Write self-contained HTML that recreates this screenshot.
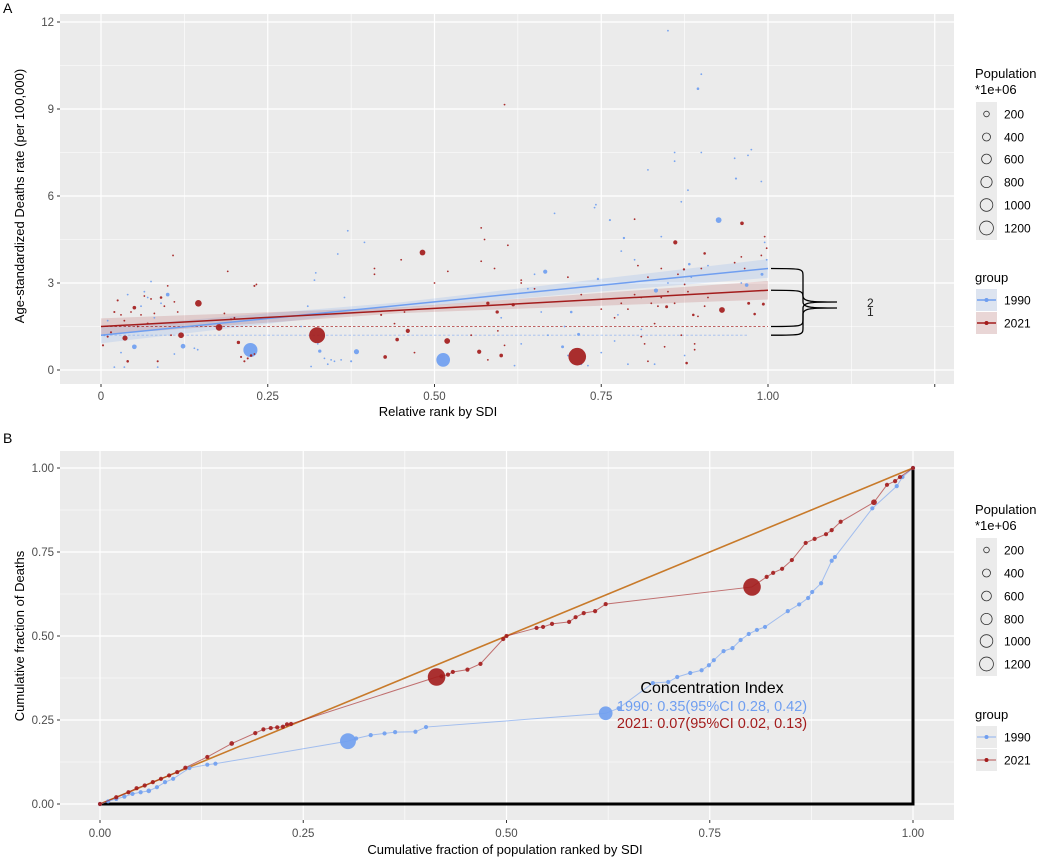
<!DOCTYPE html>
<html><head><meta charset="utf-8"><style>
body{margin:0;background:#fff}
svg{display:block;font-family:"Liberation Sans",Arial,sans-serif}
</style></head><body>
<svg id="chart" width="1052" height="859" viewBox="0 0 1052 859" xmlns="http://www.w3.org/2000/svg"></svg>
<script>
// ---------- Panel A data ----------
const rank1990=[0.224,0.513,0.05,0.123,0.1,0.383,0.328,0.926,0.895,0.666,0.832,0.968,0.991,0.692,0.716,0.705,0.882,0.784,0.763,0.745,0.952,
0.005,0.01,0.02,0.03,0.035,0.04,0.06,0.065,0.07,0.075,0.08,0.085,0.09,0.11,0.14,0.145,0.2,0.3,0.31,0.315,0.32,0.322,0.325,0.335,0.34,0.345,0.35,0.355,0.36,0.365,0.37,0.375,0.395,0.62,0.63,0.64,0.65,0.6,0.66,0.67,0.68,0.695,0.7,0.72,0.73,0.74,0.742,0.75,0.77,0.775,0.78,0.79,0.8,0.81,0.82,0.83,0.84,0.85,0.86,0.86,0.87,0.875,0.88,0.885,0.9,0.9,0.91,0.95,0.96,0.97,0.975,0.99,0.995,0.998,0.85];
const rate1990=[0.69,0.35,0.8,0.82,2.6,0.63,0.65,5.17,9.7,3.39,2.74,2.93,3.3,0.8,1.23,2.0,3.65,4.55,5.17,3.14,6.6,
1.2,1.7,0.1,0.6,0.1,2.6,2.2,2.7,2.5,3.05,1.8,0.1,2.3,0.55,0.75,0.7,1.8,1.5,2.2,0.12,3.1,3.35,0.9,0.4,0.2,0.35,0.3,4.0,0.35,2.5,4.8,0.3,4.4,0.15,0.9,2.8,3.3,1.8,2.0,1.2,5.4,1.5,0.5,0.2,0.15,5.6,5.7,0.6,1.0,1.9,4.1,0.2,3.8,1.4,6.9,0.2,4.6,3.0,7.5,7.2,5.8,0.5,6.2,3.2,10.2,7.5,3.6,7.3,3.0,7.4,7.6,6.5,4.4,3.8,11.7];
const pop1990=[900,850,100,100,60,120,50,150,30,80,80,60,40,40,40,30,30,25,20,25,20,
20,5,10,8,8,3,10,5,8,5,3,8,3,3,15,5,3,5,3,15,8,5,3,8,3,15,10,2,10,3,2,20,2,3,5,3,8,3,3,3,2,3,5,5,5,5,3,3,3,5,5,3,3,3,2,3,3,5,2,2,3,3,3,3,2,2,3,3,3,5,3,2,2,2,1];
const rank2021=[0.324,0.714,0.146,0.177,0.12,0.036,0.05,0.482,0.519,0.46,0.444,0.426,0.567,0.6,0.594,0.58,0.618,0.206,0.961,0.861,0.931,0.993,0.971,0.888,0.848,0.905,0.878,0.874,0.98,
0.003,0.01,0.015,0.02,0.025,0.03,0.035,0.04,0.045,0.055,0.06,0.065,0.07,0.075,0.08,0.085,0.09,0.095,0.1,0.105,0.108,0.11,0.115,0.19,0.185,0.195,0.2,0.21,0.215,0.22,0.225,0.23,0.23,0.233,0.41,0.41,0.42,0.44,0.45,0.455,0.47,0.5,0.52,0.57,0.57,0.575,0.59,0.595,0.605,0.61,0.63,0.65,0.7,0.72,0.75,0.77,0.78,0.79,0.8,0.805,0.81,0.81,0.815,0.82,0.82,0.825,0.83,0.835,0.84,0.84,0.845,0.85,0.86,0.865,0.87,0.875,0.88,0.89,0.89,0.895,0.9,0.905,0.91,0.95,0.96,0.965,0.99,0.995,0.998,0.58,0.605,0.8,0.555,0.63];
const rate2021=[1.2,0.46,2.3,1.47,1.2,1.1,2.15,4.05,1.0,1.35,1.05,0.45,0.63,0.5,2.0,2.3,2.25,0.95,5.06,4.4,2.07,2.27,2.3,1.9,2.18,4.02,0.24,3.47,1.93,
0.85,1.15,1.3,2.0,2.4,1.9,1.7,0.3,2.0,1.5,1.9,2.55,1.6,2.45,1.95,0.3,2.5,2.2,2.9,1.2,3.95,2.35,2.0,3.4,1.95,1.75,1.8,0.45,0.3,0.4,0.5,0.55,2.9,2.95,3.5,3.3,1.9,1.6,3.8,2.0,0.6,3.0,3.4,4.9,3.75,4.5,3.5,1.35,9.15,4.3,3.0,2.8,3.2,2.6,2.1,1.8,2.3,2.1,2.6,3.6,2.5,1.15,0.9,0.3,3.2,2.3,1.6,2.2,3.5,2.5,0.8,2.7,2.3,3.3,1.2,2.95,2.7,0.9,0.7,1.85,3.5,2.2,2.5,3.7,3.9,3.5,3.95,4.6,4.2,0.35,0.85,5.2,1.2,3.1];
const pop2021=[1150,1400,200,200,150,120,60,150,150,80,60,60,80,60,50,50,50,50,60,80,150,40,40,30,40,30,30,25,30,
20,20,20,20,20,15,15,30,5,10,10,15,20,15,10,20,30,10,15,10,8,15,5,8,5,20,5,20,20,20,30,15,20,8,3,3,20,5,3,5,3,10,3,2,10,3,3,10,3,3,3,3,3,3,5,3,3,10,10,3,10,10,10,10,15,10,10,10,5,10,5,5,5,5,5,5,5,5,5,5,5,5,5,5,5,5,5,3,3,3,3,3,3,3];
const fitStart=[1.2,1.5];   // fitted value at rank 0 (1990, 2021)
const fitEnd=[3.5,2.75];    // fitted value at rank 1
const meanRate=[1.2,1.5];   // dashed reference lines
const xTicksA=[0,0.25,0.5,0.75,1.0,1.25];
const xTickLabelsA=["0","0.25","0.50","0.75","1.00",""];
const yTicksA=[0,3,6,9,12];
// ---------- Panel B data ----------
const cumPop1990=[0,0.01,0.02,0.03,0.04,0.05,0.06,0.07,0.08,0.09,0.11,0.132,0.142,0.305,0.315,0.333,0.35,0.363,0.388,0.401,0.622,0.638,0.68,0.699,0.71,0.726,0.74,0.749,0.755,0.767,0.778,0.788,0.798,0.808,0.818,0.846,0.86,0.871,0.876,0.887,0.9,0.904,0.95,0.98,0.987,1.0];
const cumDeath1990=[0,0.008,0.015,0.022,0.03,0.035,0.039,0.05,0.065,0.075,0.107,0.117,0.12,0.187,0.195,0.205,0.21,0.214,0.215,0.229,0.27,0.285,0.36,0.363,0.378,0.39,0.398,0.413,0.428,0.455,0.464,0.488,0.506,0.518,0.527,0.574,0.594,0.613,0.631,0.657,0.724,0.735,0.88,0.946,0.973,1.0];
const popB1990=[1,10,10,10,10,10,100,20,20,20,30,60,20,1150,20,30,20,20,20,60,850,20,30,20,20,20,20,20,20,20,20,20,20,20,20,60,20,20,20,20,20,20,80,30,20,1];
const cumPop2021=[0,0.02,0.035,0.045,0.055,0.065,0.075,0.085,0.095,0.105,0.132,0.162,0.191,0.201,0.21,0.218,0.225,0.23,0.235,0.414,0.42,0.428,0.434,0.452,0.468,0.496,0.5,0.537,0.545,0.556,0.577,0.585,0.595,0.609,0.622,0.802,0.82,0.828,0.839,0.851,0.868,0.879,0.893,0.9,0.911,0.952,0.968,0.978,0.984,1.0];
const cumDeath2021=[0,0.02,0.035,0.047,0.055,0.065,0.075,0.085,0.095,0.108,0.14,0.18,0.211,0.222,0.226,0.228,0.23,0.237,0.238,0.378,0.38,0.385,0.393,0.4,0.417,0.491,0.5,0.524,0.527,0.536,0.542,0.556,0.568,0.574,0.595,0.646,0.676,0.688,0.7,0.726,0.777,0.789,0.803,0.815,0.84,0.898,0.95,0.961,0.973,1.0];
const popB2021=[1,20,30,20,20,20,20,20,20,30,60,100,80,20,20,20,20,20,20,1400,20,20,30,30,30,40,20,50,20,20,30,20,20,20,25,1400,20,20,20,20,40,20,20,20,20,150,30,20,20,1];
const xTicksB=[0,0.25,0.5,0.75,1.0];
const xTickLabelsB=["0.00","0.25","0.50","0.75","1.00"];
const yTicksB=[0,0.25,0.5,0.75,1.0];
const yTickLabelsB=["0.00","0.25","0.50","0.75","1.00"];
const legendSizes=[200,400,600,800,1000,1200];

const NS="http://www.w3.org/2000/svg";
const svg=document.getElementById('chart');
function mk(tag,attrs,parent){const e=document.createElementNS(NS,tag);for(const k in attrs)e.setAttribute(k,attrs[k]);(parent||svg).appendChild(e);return e;}
function txt(s,attrs,parent){const e=mk('text',attrs,parent);e.textContent=s;return e;}
const BLUE="#6f9ef0",RED="#a31c1c";
const rad=p=>Math.max(0.9,0.235*Math.sqrt(p));
const radB=p=>Math.max(2.1,0.235*Math.sqrt(p));

// ---------- Panel A scales ----------
const axA=v=>101+v*667, ayA=v=>370-v*29;
const gA=mk('g',{});


let r=mk('rect',{x:60,y:14,width:894,height:370,fill:'#ebebeb'},gA);

for(let i=0;i<xTicksA.length-1;i++){const m=(xTicksA[i]+xTicksA[i+1])/2;mk('line',{x1:axA(m),x2:axA(m),y1:14,y2:384,stroke:'#fff','stroke-width':0.6},gA);}
mk('line',{x1:axA(-0.125),x2:axA(-0.125),y1:14,y2:384,stroke:'#fff','stroke-width':0.6},gA);
for(let i=0;i<yTicksA.length-1;i++){const m=(yTicksA[i]+yTicksA[i+1])/2;mk('line',{x1:60,x2:954,y1:ayA(m),y2:ayA(m),stroke:'#fff','stroke-width':0.6},gA);}
xTicksA.forEach((t,i)=>{mk('line',{x1:axA(t),x2:axA(t),y1:14,y2:384,stroke:'#fff','stroke-width':1.2},gA);
 mk('line',{x1:axA(t),x2:axA(t),y1:384,y2:387,stroke:'#333'},gA);
 const l=txt(xTickLabelsA[i],{x:axA(t),y:400,'font-size':11.5,fill:'#4d4d4d','text-anchor':'middle'},gA);
 });
yTicksA.forEach(t=>{mk('line',{x1:60,x2:954,y1:ayA(t),y2:ayA(t),stroke:'#fff','stroke-width':1.2},gA);
 mk('line',{x1:57,x2:60,y1:ayA(t),y2:ayA(t),stroke:'#333'},gA);
 const l=txt(String(t),{x:54,y:ayA(t)+4,'font-size':11.5,fill:'#4d4d4d','text-anchor':'end'},gA);
 });
// bands and fits
const bandCols=['rgba(111,158,240,0.18)','rgba(163,28,28,0.15)'],lineCols=[BLUE,RED];
[0,1].forEach(k=>{
 const f=x=>fitStart[k]+(fitEnd[k]-fitStart[k])*x;
 const hw=x=>0.1+0.22*Math.abs(x-0.45)/0.55;
 let top='',bot='';
 for(let x=0;x<=1.0001;x+=0.05){top+=(top?'L':'M')+axA(x)+','+ayA(f(x)+hw(x));}
 for(let x=1;x>=-0.0001;x-=0.05){bot+='L'+axA(x)+','+ayA(f(x)-hw(x));}
 const b=mk('path',{d:top+bot+'Z',fill:bandCols[k]},gA);
 
 const dl=mk('line',{x1:axA(0),x2:axA(k?1:0.97),y1:ayA(meanRate[k]),y2:ayA(meanRate[k]),stroke:lineCols[k],'stroke-width':0.8,'stroke-dasharray':'2.5,2',opacity:k?0.9:0.6},gA);
 
});
function pointsA(rk,rt,pp,col,name){rk.forEach((x,i)=>{const c=mk('circle',{cx:axA(x),cy:ayA(rt[i]),r:rad(pp[i]),fill:col,opacity:0.92},gA);
 });}
pointsA(rank1990,rate1990,pop1990,BLUE,'point-1990');
pointsA(rank2021,rate2021,pop2021,RED,'point-2021');
[0,1].forEach(k=>{const l=mk('line',{x1:axA(0),x2:axA(1),y1:ayA(fitStart[k]),y2:ayA(fitEnd[k]),stroke:lineCols[k],'stroke-width':1.5},gA);
 });
// braces
function brace(yTop,yBot,yTip,name){const x0=axA(1.0)+3,x1=x0+32,x2=x0+66,ym=yTip;
 const d=`M${x0},${yTop} C${x1},${yTop} ${x1},${yTop} ${x1},${yTop+8} L${x1},${ym-6} C${x1},${ym} ${x1+10},${ym} ${x2},${ym} C${x1+10},${ym} ${x1},${ym} ${x1},${ym+6} L${x1},${yBot-8} C${x1},${yBot} ${x1},${yBot} ${x0},${yBot}`;
 const p=mk('path',{d,fill:'none',stroke:'#000','stroke-width':1.3},gA);}
brace(ayA(fitEnd[0]),ayA(meanRate[0]),302,'brace-1990');
brace(ayA(fitEnd[1]),ayA(meanRate[1]),308,'brace-2021');
txt('2',{x:867,y:307,'font-size':12,fill:'#222'},gA);
txt('1',{x:867,y:316,'font-size':12,fill:'#222'},gA);
let t=txt('A',{x:3,y:13,'font-size':14,fill:'#000'});
t=txt('Relative rank by SDI',{x:438,y:416,'font-size':13,fill:'#000','text-anchor':'middle'});
t=txt('Age-standardized Deaths rate (per 100,000)',{x:0,y:0,'font-size':13,fill:'#000','text-anchor':'middle',transform:'translate(24,196) rotate(-90)'});

// ---------- Panel B ----------
const axB=v=>100+v*813, ayB=v=>804-v*336;
const gB=mk('g',{});


r=mk('rect',{x:60,y:451,width:894,height:369,fill:'#ebebeb'},gB);

for(let i=-1;i<xTicksB.length;i++){const m=(i+0.5)*0.25;mk('line',{x1:axB(m),x2:axB(m),y1:451,y2:820,stroke:'#fff','stroke-width':0.6},gB);}
for(let i=-1;i<yTicksB.length-1;i++){const m=(i+0.5)*0.25;if(ayB(m)<820)mk('line',{x1:60,x2:954,y1:ayB(m),y2:ayB(m),stroke:'#fff','stroke-width':0.6},gB);}
xTicksB.forEach((v,i)=>{mk('line',{x1:axB(v),x2:axB(v),y1:451,y2:820,stroke:'#fff','stroke-width':1.2},gB);
 mk('line',{x1:axB(v),x2:axB(v),y1:820,y2:823,stroke:'#333'},gB);
 const l=txt(xTickLabelsB[i],{x:axB(v),y:837,'font-size':11.5,fill:'#4d4d4d','text-anchor':'middle'},gB);
 });
yTicksB.forEach((v,i)=>{mk('line',{x1:60,x2:954,y1:ayB(v),y2:ayB(v),stroke:'#fff','stroke-width':1.2},gB);
 mk('line',{x1:57,x2:60,y1:ayB(v),y2:ayB(v),stroke:'#333'},gB);
 const l=txt(yTickLabelsB[i],{x:54,y:ayB(v)+4,'font-size':11.5,fill:'#4d4d4d','text-anchor':'end'},gB);
 });
let e=mk('path',{d:`M${axB(0)},${ayB(0)} L${axB(1)},${ayB(0)} L${axB(1)},${ayB(1)}`,fill:'none',stroke:'#000','stroke-width':3},gB);

e=mk('line',{x1:axB(0),y1:ayB(0),x2:axB(1),y2:ayB(1),stroke:'#c87a2a','stroke-width':1.6},gB);

function lorenz(xs,ys,pp,col,name){
 const d=xs.map((x,i)=>(i?'L':'M')+axB(x)+','+ayB(ys[i])).join('');
 const p=mk('path',{d,fill:'none',stroke:col,'stroke-width':1,opacity:0.6},gB);
 
 xs.forEach((x,i)=>{const c=mk('circle',{cx:axB(x),cy:ayB(ys[i]),r:radB(pp[i]),fill:col,opacity:0.9},gB);
  });}
lorenz(cumPop1990,cumDeath1990,popB1990,BLUE,'lorenz-1990');
lorenz(cumPop2021,cumDeath2021,popB2021,RED,'lorenz-2021');
t=txt('Concentration Index',{x:712,y:693,'font-size':16,fill:'#000','text-anchor':'middle'},gB);
t=txt('1990: 0.35(95%CI 0.28, 0.42)',{x:712,y:711,'font-size':14.5,fill:BLUE,'text-anchor':'middle'},gB);
t=txt('2021: 0.07(95%CI 0.02, 0.13)',{x:712,y:728,'font-size':14.5,fill:RED,'text-anchor':'middle'},gB);
t=txt('B',{x:3,y:443,'font-size':14,fill:'#000'});
t=txt('Cumulative fraction of population ranked by SDI',{x:505,y:854,'font-size':13,fill:'#000','text-anchor':'middle'});
t=txt('Cumulative fraction of Deaths',{x:0,y:0,'font-size':13,fill:'#000','text-anchor':'middle',transform:'translate(24,636) rotate(-90)'});

// ---------- Legends ----------
function legend(top,circY,grpY,tinted){
 const g=mk('g',{});
 txt('Population',{x:975,y:top,'font-size':13,fill:'#000'},g);
 txt('*1e+06',{x:975,y:top+16,'font-size':13,fill:'#000'},g);
 mk('rect',{x:976,y:circY[0]-12,width:21,height:circY[5]-circY[0]+24,fill:'#ebebeb'},g);
 legendSizes.forEach((s,i)=>{const c=mk('circle',{cx:986.5,cy:circY[i],r:rad(s)*0.85,fill:'none',stroke:'#333','stroke-width':0.8},g);
  
  txt(String(s),{x:1004,y:circY[i]+4.5,'font-size':12,fill:'#000'},g);});
 txt('group',{x:975,y:grpY-18,'font-size':13,fill:'#000'},g);
 [['1990',BLUE,tinted?'#dde4f0':'#ebebeb'],['2021',RED,tinted?'#e9d6d6':'#ebebeb']].forEach((k,i)=>{
  const y=grpY+i*23;
  mk('rect',{x:976,y:y-11,width:21,height:22,fill:k[2]},g);
  mk('line',{x1:977,x2:996,y1:y,y2:y,stroke:k[1],'stroke-width':tinted?1.5:0.8},g);
  mk('circle',{cx:986.5,cy:y,r:2,fill:k[1]},g);
  const l=txt(k[0],{x:1004,y:y+4.5,'font-size':12,fill:'#000'},g);
  });
}
legend(78,[114,137,159,182,205,228],300,true);
legend(514,[550,573,596,619,641,664],737,false);
</script>
</body></html>
